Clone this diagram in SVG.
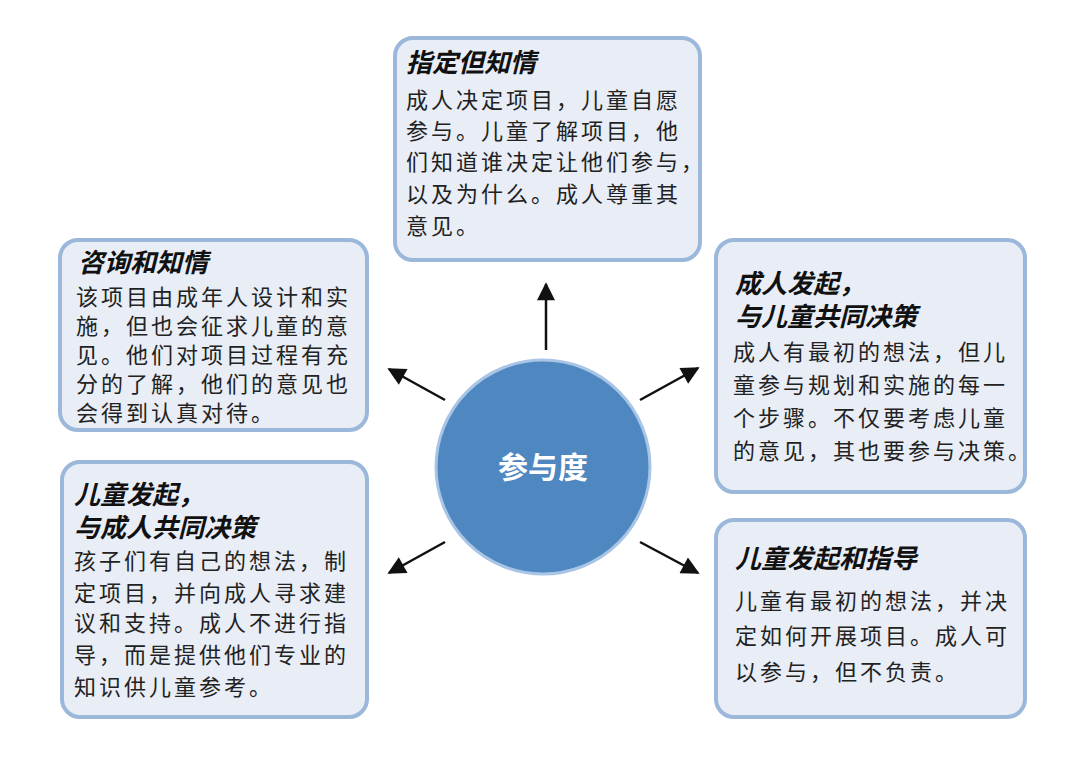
<svg xmlns="http://www.w3.org/2000/svg" width="1080" height="772" viewBox="0 0 1080 772">
<style>
.box{fill:#e8edf6;stroke:#9bb8da;stroke-width:4}
.t{font-family:"Noto Sans CJK SC",sans-serif;font-size:26px;font-weight:bold;font-style:italic;fill:#111}
.b{font-family:"Noto Sans CJK SC",sans-serif;font-size:22px;letter-spacing:3px;fill:#222}
</style>
<defs>
<marker id="ah2" viewBox="0 0 10 10" refX="9" refY="5" markerWidth="20" markerHeight="18" orient="auto" markerUnits="userSpaceOnUse"><path d="M0,0 L10,5 L0,10 Z" fill="#111"/></marker></defs>
<rect width="1080" height="772" fill="#fff"/>
<g id="connectors">
<line x1="546" y1="350" x2="546" y2="284" stroke="#111" stroke-width="2.5" marker-end="url(#ah2)"/>
<line x1="445" y1="400" x2="389" y2="369" stroke="#111" stroke-width="2.5" marker-end="url(#ah2)"/>
<line x1="640" y1="400" x2="698" y2="368" stroke="#111" stroke-width="2.5" marker-end="url(#ah2)"/>
<line x1="445" y1="542" x2="389" y2="573" stroke="#111" stroke-width="2.5" marker-end="url(#ah2)"/>
<line x1="640" y1="542" x2="698" y2="573" stroke="#111" stroke-width="2.5" marker-end="url(#ah2)"/>
</g>
<g id="center">
<circle cx="543" cy="467" r="107" fill="#4f87c1" stroke="#a9c5e5" stroke-width="3"/>
<text x="543" y="478" text-anchor="middle" font-family="Noto Sans CJK SC,sans-serif" font-size="30" font-weight="bold" fill="#fff">参与度</text>
</g>
<g id="top">
<rect class="box" x="395" y="38" width="305" height="222" rx="18"/>
<text class="t" x="406" y="72">指定但知情</text>
<text class="b" x="406" y="108">成人决定项目，儿童自愿</text>
<text class="b" x="406" y="139">参与。儿童了解项目，他</text>
<text class="b" x="406" y="170">们知道谁决定让他们参与，</text>
<text class="b" x="406" y="202">以及为什么。成人尊重其</text>
<text class="b" x="406" y="234">意见。</text>
</g>
<g id="lefttop">
<rect class="box" x="60" y="240" width="307" height="190" rx="18"/>
<text class="t" x="78" y="272">咨询和知情</text>
<text class="b" x="76" y="305">该项目由成年人设计和实</text>
<text class="b" x="76" y="334">施，但也会征求儿童的意</text>
<text class="b" x="76" y="363">见。他们对项目过程有充</text>
<text class="b" x="76" y="392">分的了解，他们的意见也</text>
<text class="b" x="76" y="421">会得到认真对待。</text>
</g>
<g id="righttop">
<rect class="box" x="716" y="240" width="309" height="252" rx="18"/>
<text class="t" x="735" y="293">成人发起，</text>
<text class="t" x="735" y="326">与儿童共同决策</text>
<text class="b" x="733" y="360">成人有最初的想法，但儿</text>
<text class="b" x="733" y="393">童参与规划和实施的每一</text>
<text class="b" x="733" y="426">个步骤。不仅要考虑儿童</text>
<text class="b" x="733" y="459">的意见，其也要参与决策。</text>
</g>
<g id="leftbottom">
<rect class="box" x="62" y="462" width="305" height="255" rx="18"/>
<text class="t" x="74" y="504">儿童发起，</text>
<text class="t" x="74" y="537">与成人共同决策</text>
<text class="b" x="74" y="569">孩子们有自己的想法，制</text>
<text class="b" x="74" y="601">定项目，并向成人寻求建</text>
<text class="b" x="74" y="631">议和支持。成人不进行指</text>
<text class="b" x="74" y="663">导，而是提供他们专业的</text>
<text class="b" x="74" y="695">知识供儿童参考。</text>
</g>
<g id="rightbottom">
<rect class="box" x="716" y="520" width="309" height="197" rx="18"/>
<text class="t" x="735" y="568">儿童发起和指导</text>
<text class="b" x="735" y="609">儿童有最初的想法，并决</text>
<text class="b" x="735" y="644">定如何开展项目。成人可</text>
<text class="b" x="735" y="680">以参与，但不负责。</text>
</g>
</svg>
